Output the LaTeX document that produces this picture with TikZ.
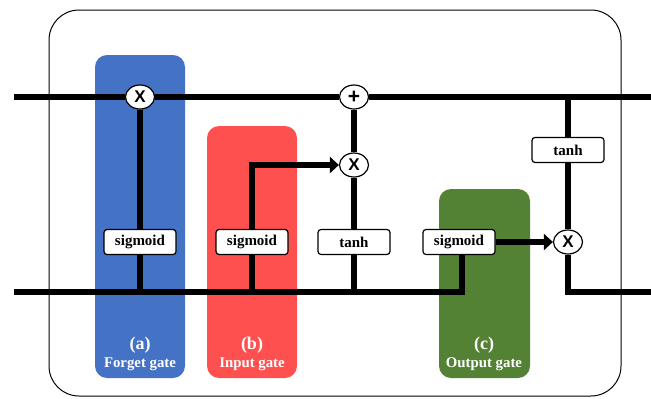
\documentclass[tikz,border=0pt]{standalone}
\usepackage{fontspec}
\setmainfont{Liberation Serif}
\newfontfamily\opfont{Liberation Sans}
\usetikzlibrary{arrows.meta,shapes.geometric}
\definecolor{forgetblue}{HTML}{4472C4}
\definecolor{inputred}{HTML}{FF5050}
\definecolor{outputgreen}{HTML}{548235}
\pgfdeclarelayer{panels}
\pgfdeclarelayer{wires}
\pgfsetlayers{panels,wires,main}

\begin{document}
\begin{tikzpicture}[x=1pt,y=-1pt,
  wire/.style={line width=6.8pt},
  tip/.style={-{Triangle[length=9pt,width=16pt]}},
  panel/.style={rounded corners=12pt},
  fn/.style={draw, line width=1.2pt, fill=white, rounded corners=3pt,
    minimum width=72pt, minimum height=25pt, inner sep=0pt,
    font=\bfseries\fontsize{15}{15}\selectfont},
  op/.style={draw, line width=1.2pt, fill=white, ellipse,
    minimum width=29pt, minimum height=24pt, inner sep=0pt,
    font=\opfont\bfseries\fontsize{17}{17}\selectfont},
  plusop/.style={op, font=\opfont\bfseries\fontsize{21}{21}\selectfont},
  tag/.style={text=white, inner sep=0pt},
  tagletter/.style={tag, font=\bfseries\fontsize{18}{18}\selectfont},
  tagname/.style={tag, font=\bfseries\fontsize{14.8}{15}\selectfont}
]
\useasboundingbox (0,0) rectangle (651,399);

% cell frame
\draw[line width=1pt, rounded corners=30pt] (49,10) rectangle (621,396);

% gate panels
\begin{pgfonlayer}{panels}
  \fill[forgetblue, panel] (95,55) rectangle (185,378);
  \fill[inputred, panel] (207,126) rectangle (297,378);
  \fill[outputgreen, panel] (439,189) rectangle (530,378);
\end{pgfonlayer}

% operators and activation boxes
\node[op] (fx) at (140,97) {X};
\node[plusop] (add) at (354,97) {+};
\node[op] (ix) at (354,165) {X};
\node[op] (ox) at (568,242) {X};

\node[fn] (fsig) at (140,242) {sigmoid};
\node[fn] (isig) at (252,242) {sigmoid};
\node[fn] (itanh) at (354,242) {tanh};
\node[fn] (osig) at (459,242) {sigmoid};
\node[fn] (otanh) at (568,150) {tanh};

% line ends
\coordinate (cin) at (14,97);
\coordinate (cout) at (651,97);
\coordinate (hin) at (14,292);
\coordinate (hjoin) at (462,292);
\coordinate (ctap) at (568,97);
\coordinate (hturn) at (568,292);
\coordinate (hout) at (651,292);

\begin{pgfonlayer}{wires}
  % cell state
  \draw[wire] (cin) -- (fx) -- (add) -- (cout);
  % hidden state / input
  \draw[wire] (hin) -- (hjoin) -- (hjoin |- osig.south);
  % forget gate
  \draw[wire] (fx) -- (fsig) -- (fx |- hin);
  % input gate
  \draw[wire] (isig) -- (isig |- hin);
  \draw[wire, tip] (isig) |- (ix);
  \draw[wire] (add) -- (ix) -- (itanh) -- (itanh |- hin);
  % output gate
  \draw[wire, tip] (osig) -- (ox);
  \draw[wire] (ctap) -- (otanh) -- (ox) -- (hturn) -- (hout);
\end{pgfonlayer}

% gate captions
\node[tagletter] (la) at (140,345) {(a)};
\node[tagname] (na) at (140,364) {Forget gate};
\node[tagletter] (lb) at (252,345) {(b)};
\node[tagname] (nb) at (252,364) {Input gate};
\node[tagletter] (lc) at (484,345) {(c)};
\node[tagname] (nc) at (484,364) {Output gate};
\end{tikzpicture}
\end{document}
